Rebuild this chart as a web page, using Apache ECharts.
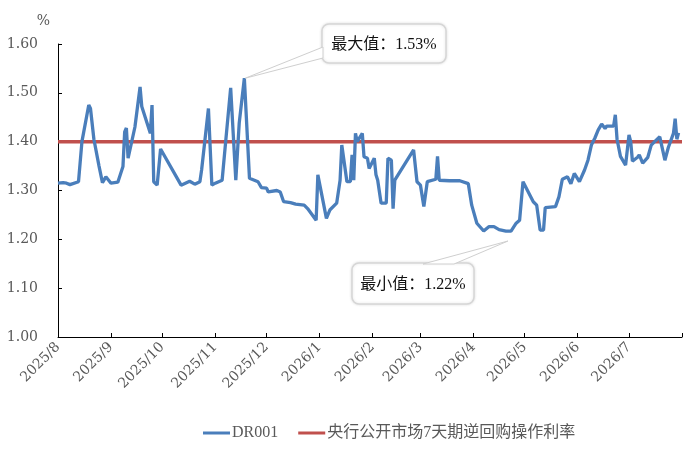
<!DOCTYPE html>
<html>
<head>
<meta charset="utf-8">
<script src="https://cdn.jsdelivr.net/npm/echarts@6/dist/echarts.min.js"></script>
<style>
  html,body{margin:0;padding:0;background:#fff;}
  #chart{width:700px;height:464px;}
</style>
</head>
<body>
<div id="chart"></div>
<script>
// DR001 走势
var dr001Dates = [
  '2025-08-01','2025-08-04','2025-08-06','2025-08-08','2025-08-13','2025-08-14','2025-08-15','2025-08-19','2025-08-20','2025-08-22',
  '2025-08-25','2025-08-27','2025-08-28','2025-08-29','2025-09-01','2025-09-05','2025-09-08','2025-09-09','2025-09-10','2025-09-11',
  '2025-09-12','2025-09-15','2025-09-18','2025-09-19','2025-09-24','2025-09-25','2025-09-26','2025-09-28','2025-09-30','2025-10-12',
  '2025-10-17','2025-10-20','2025-10-23','2025-10-24','2025-10-28','2025-10-30','2025-11-01','2025-11-05','2025-11-07','2025-11-10',
  '2025-11-13','2025-11-15','2025-11-18','2025-11-21','2025-11-26','2025-11-28','2025-12-01','2025-12-02','2025-12-07','2025-12-09',
  '2025-12-11','2025-12-15','2025-12-18','2025-12-23','2025-12-25','2025-12-30','2025-12-31','2026-01-05','2026-01-07','2026-01-11',
  '2026-01-13','2026-01-14','2026-01-15','2026-01-17','2026-01-19','2026-01-20','2026-01-21','2026-01-22','2026-01-23','2026-01-26',
  '2026-01-27','2026-01-29','2026-01-30','2026-02-02','2026-02-03','2026-02-04','2026-02-06','2026-02-09','2026-02-10','2026-02-12',
  '2026-02-13','2026-02-14','2026-02-25','2026-02-27','2026-03-01','2026-03-03','2026-03-04','2026-03-05','2026-03-10','2026-03-11',
  '2026-03-12','2026-03-18','2026-03-24','2026-03-25','2026-03-29','2026-03-31','2026-04-01','2026-04-03','2026-04-07','2026-04-10',
  '2026-04-13','2026-04-16','2026-04-20','2026-04-23','2026-04-26','2026-04-28','2026-04-30','2026-05-06','2026-05-08','2026-05-10',
  '2026-05-12','2026-05-13','2026-05-19','2026-05-21','2026-05-23','2026-05-26','2026-05-28','2026-05-30','2026-06-02','2026-06-03',
  '2026-06-05','2026-06-07','2026-06-09','2026-06-11','2026-06-13','2026-06-15','2026-06-17','2026-06-18','2026-06-22','2026-06-23',
  '2026-06-24','2026-06-26','2026-06-29','2026-07-01','2026-07-02','2026-07-03','2026-07-06','2026-07-07','2026-07-09','2026-07-12',
  '2026-07-14','2026-07-16','2026-07-19','2026-07-22','2026-07-24','2026-07-27','2026-07-28','2026-07-29','2026-07-30'
];
var dr001Values = [
  1.315,1.316,1.315,1.312,1.318,1.320,1.400,1.475,1.468,1.405,
  1.350,1.316,1.315,1.328,1.315,1.317,1.349,1.420,1.428,1.366,
  1.370,1.430,1.512,1.472,1.417,1.475,1.318,1.311,1.385,1.311,
  1.319,1.313,1.318,1.342,1.468,1.311,1.315,1.321,1.397,1.510,
  1.321,1.438,1.530,1.325,1.318,1.306,1.305,1.297,1.300,1.297,
  1.277,1.275,1.272,1.270,1.263,1.239,1.332,1.243,1.260,1.274,
  1.321,1.393,1.393,1.318,1.318,1.373,1.321,1.417,1.400,1.417,
  1.369,1.366,1.345,1.366,1.332,1.321,1.274,1.274,1.366,1.362,
  1.263,1.321,1.383,1.318,1.311,1.267,1.267,1.318,1.323,1.370,
  1.321,1.320,1.320,1.323,1.314,1.270,1.267,1.233,1.217,1.226,
  1.226,1.220,1.217,1.217,1.233,1.239,1.318,1.277,1.270,1.219,
  1.219,1.265,1.267,1.287,1.323,1.328,1.314,1.335,1.318,1.318,
  1.342,1.362,1.393,1.407,1.424,1.436,1.427,1.432,1.432,1.455,
  1.405,1.370,1.352,1.414,1.400,1.360,1.368,1.373,1.356,1.368,
  1.393,1.400,1.410,1.362,1.388,1.417,1.447,1.405,1.418
];
// 央行7天逆回购利率
var rateDates = ['2025-08-01','2026-08-01'];
var rateValues = [1.40, 1.40];
var yTicks = [1.00,1.10,1.20,1.30,1.40,1.50,1.60];

var maxIdx = 42, minIdx = 102;

var txtColor = '#595959';
var latin = '"DejaVu Serif","Noto Sans CJK SC",serif';
var mixed = '"Liberation Serif","Noto Sans CJK SC",serif';

function pairs(d, v){
  return d.map(function(x, i){ return [x, v[i]]; });
}

var myChart = echarts.init(document.getElementById('chart'));
var option = {
  backgroundColor:'#fff',
  animation:false,
  grid:{left:58,right:18,top:44,bottom:127},
  legend:{
    left:203,top:425,padding:0,itemWidth:27,itemHeight:3,itemGap:20,
    icon:'rect',
    data:[{name:'DR001',itemStyle:{color:'#4a7ebb'}},{name:'央行公开市场7天期逆回购操作利率',itemStyle:{color:'#c0504d'}}],
    textStyle:{color:txtColor,fontFamily:mixed,fontSize:16,padding:[0,0,0,-3]}
  },
  xAxis:{
    type:'time',
    min:'2025-08-01',max:'2026-08-01',
    minInterval:28*86400000,maxInterval:31*86400000,
    axisLine:{lineStyle:{color:'#000',width:1}},
    axisTick:{inside:true,length:4,lineStyle:{color:'#000'}},
    splitLine:{show:false},
    axisLabel:{
      rotate:45,color:txtColor,fontFamily:latin,fontSize:14,margin:8,
      formatter:function(val){
        var d = new Date(val);
        if (d.getFullYear() === 2026 && d.getMonth() === 7) return '';
        return d.getFullYear() + '/' + (d.getMonth() + 1);
      }
    }
  },
  yAxis:{
    type:'value',min:yTicks[0],max:yTicks[yTicks.length-1],interval:0.1,
    name:'%',nameGap:16,
    nameTextStyle:{color:txtColor,fontFamily:latin,fontSize:14,align:'right',padding:[0,8,0,0]},
    axisLine:{show:true,lineStyle:{color:'#000',width:1}},
    axisTick:{show:true,inside:true,length:4,lineStyle:{color:'#000'}},
    splitLine:{show:false},
    axisLabel:{color:txtColor,fontFamily:latin,fontSize:14,margin:20,formatter:function(v){return v.toFixed(2);}}
  },
  series:[
    {name:'央行公开市场7天期逆回购操作利率',type:'line',symbol:'none',z:2,
     lineStyle:{color:'#c0504d',width:3.5},data:pairs(rateDates, rateValues)},
    {name:'DR001',type:'line',symbol:'none',z:3,
     lineStyle:{color:'#4a7ebb',width:3.3},data:pairs(dr001Dates, dr001Values)}
  ]
};
myChart.setOption(option);

// 最大值/最小值标注框
function callout(tip, box, base, text){
  return [
    {type:'rect',shape:{x:box[0],y:box[1],width:box[2],height:box[3],r:7},z:10,
     style:{fill:'#fff',stroke:'#d6d6d6',lineWidth:1.5,shadowBlur:3,shadowColor:'rgba(0,0,0,0.12)'}},
    {type:'polygon',shape:{points:[tip, base[0], base[1]]},z:11,
     style:{fill:'#fff',stroke:'#cfcfcf',lineWidth:1}},
    {type:'text',z:12,x:box[0]+box[2]/2,y:box[1]+box[3]/2+1,
     style:{text:text,fill:'#111',fontSize:16,fontFamily:mixed,textAlign:'center',textVerticalAlign:'middle'}}
  ];
}
var pMax = myChart.convertToPixel({gridIndex:0},[dr001Dates[maxIdx], dr001Values[maxIdx]]);
var pMin = myChart.convertToPixel({gridIndex:0},[dr001Dates[minIdx], dr001Values[minIdx]]);
var g = [].concat(
  callout([pMax[0]+1,pMax[1]], [322,24,124,39], [[323,47],[323,58]], '最大值：' + dr001Values[maxIdx].toFixed(2) + '%'),
  callout([pMin[0]+2,pMin[1]+10], [352,263,122,41], [[423,264],[454,264]], '最小值：' + dr001Values[minIdx].toFixed(2) + '%')
);
myChart.setOption({graphic:g});
</script>
</body>
</html>
